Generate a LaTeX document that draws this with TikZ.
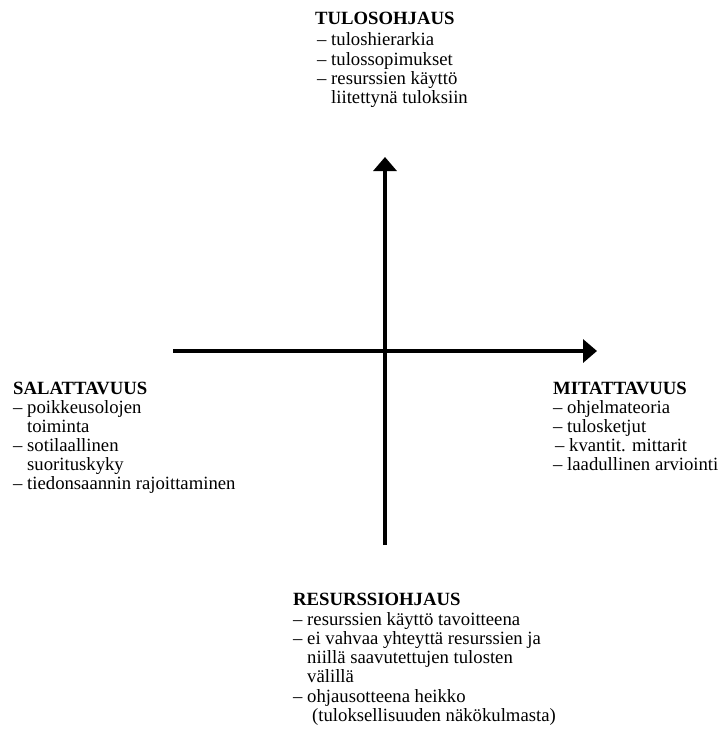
\documentclass[tikz,border=0pt]{standalone}
\usepackage{fontspec}
\setmainfont{Liberation Serif}
\usetikzlibrary{arrows.meta}

\begin{document}
\begin{tikzpicture}[x=1pt, y=-1pt,
  ln/.style={anchor=base west, inner sep=0pt, font=\fontsize{18.7}{19}\selectfont},
  hd/.style={ln, font=\fontsize{18.7}{19}\selectfont\bfseries},
  axis/.style={line width=3.6pt, -{Triangle[length=14pt, width=23pt]}}]

  \useasboundingbox (0,0) rectangle (724,742);

  % axes
  \coordinate (xl) at (173,351);
  \coordinate (xr) at (597,351);
  \coordinate (yb) at (385,545);
  \coordinate (yt) at (385,157);
  \draw[axis] (xl) -- (xr);
  \draw[axis] (yb) -- (yt);

  % top: result steering
  \node[hd] (t0) at (315,24)  {TULOSOHJAUS};
  \node[ln] (t1) at (317,45.5){– tuloshierarkia};
  \node[ln] (t2) at (317,65)  {– tulossopimukset};
  \node[ln] (t3) at (317,84)  {– resurssien käyttö};
  \node[ln] (t4) at (331,103) {liitettynä tuloksiin};

  % left: secrecy
  \node[hd] (l0) at (13,394)  {SALATTAVUUS};
  \node[ln] (l1) at (13,413)  {– poikkeusolojen};
  \node[ln] (l2) at (27,432)  {toiminta};
  \node[ln] (l3) at (13,451)  {– sotilaallinen};
  \node[ln] (l4) at (27,470)  {suorituskyky};
  \node[ln] (l5) at (13,489)  {– tiedonsaannin rajoittaminen};

  % right: measurability
  \node[hd] (r0) at (553,394) {MITATTAVUUS};
  \node[ln] (r1) at (553,413) {– ohjelmateoria};
  \node[ln] (r2) at (553,432) {– tulosketjut};
  \node[ln] (r3) at (555,451) {– kvantit. mittarit};
  \node[ln] (r4) at (553,470) {– laadullinen arviointi};

  % bottom: resource steering
  \node[hd] (b0) at (293,605) {RESURSSIOHJAUS};
  \node[ln] (b1) at (293,625) {– resurssien käyttö tavoitteena};
  \node[ln] (b2) at (293,644) {– ei vahvaa yhteyttä resurssien ja};
  \node[ln] (b3) at (307,663) {niillä saavutettujen tulosten};
  \node[ln] (b4) at (307,682) {välillä};
  \node[ln] (b5) at (293,702) {– ohjausotteena heikko};
  \node[ln] (b6) at (312,721) {(tuloksellisuuden näkökulmasta)};
\end{tikzpicture}
\end{document}
